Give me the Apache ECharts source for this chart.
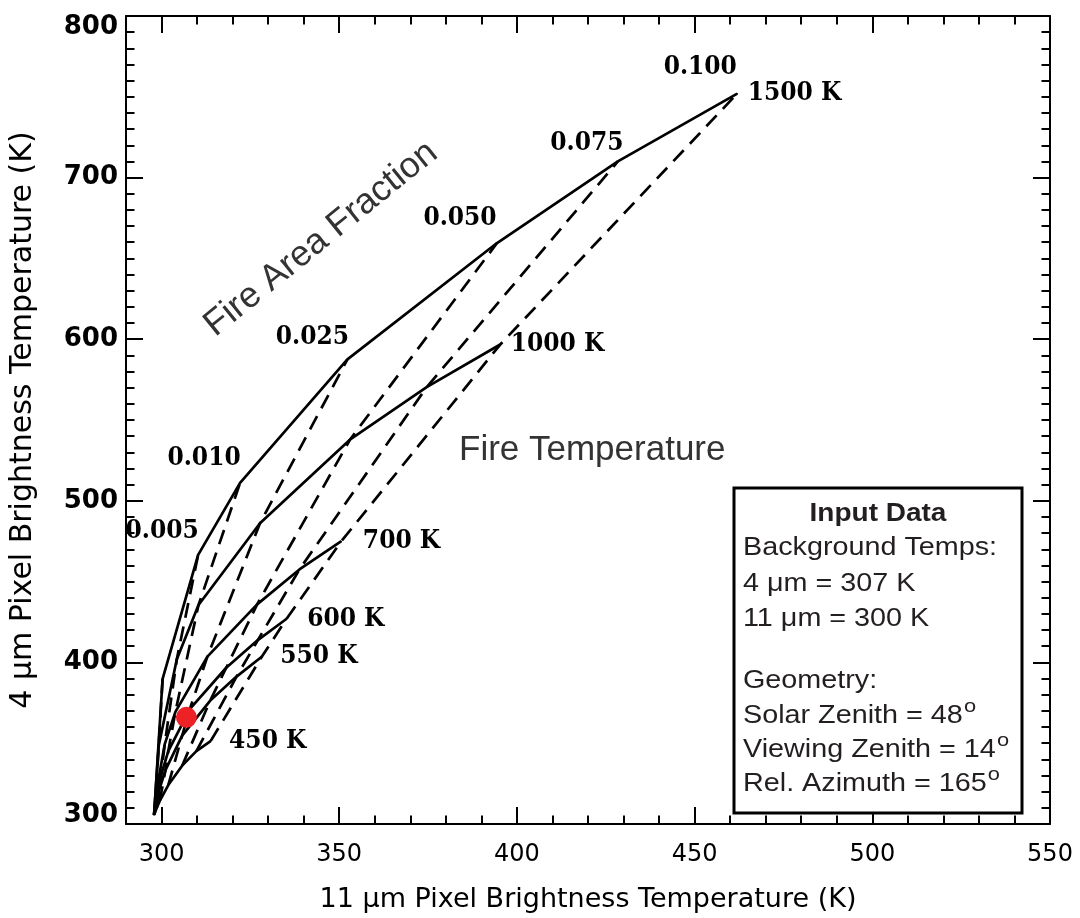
<!DOCTYPE html>
<html><head><meta charset="utf-8">
<script src="https://cdn.jsdelivr.net/npm/echarts@6/dist/echarts.min.js"></script>
<style>html,body{margin:0;padding:0;background:#fff}#c{width:1080px;height:918px}</style>
</head><body><div id="c"></div>
<script>
// ---- data ----
const fireTemps = [450, 550, 600, 700, 1000, 1500];
const tempLabels = ['450 K', '550 K', '600 K', '700 K', '1000 K', '1500 K'];
const fireFractions = [0, 0.001, 0.005, 0.010, 0.025, 0.050, 0.075, 0.100];
const fractionLabels = ['', '', '0.005', '0.010', '0.025', '0.050', '0.075', '0.100'];

// 11 um brightness temperature (x) along each fire-temperature curve, one value per fraction
const t450X  = [297.9, 298.1, 298.7, 299.5, 301.9, 305.8, 309.8, 313.8];
const t550X  = [297.9, 298.2, 299.5, 301.1, 305.8, 313.7, 321.1, 328.2];
const t600X  = [297.9, 298.3, 299.9, 301.9, 308.0, 318.2, 327.1, 335.2];
const t700X  = [297.9, 298.5, 300.9, 303.9, 312.9, 326.9, 338.8, 350.6];
const t1000X = [297.9, 299.2, 304.3, 310.4, 327.7, 353.0, 374.6, 395.3];
const t1500X = [297.9, 300.3, 310.3, 322.1, 352.3, 394.4, 428.4, 462.0];
// 4 um brightness temperature (y)
const t450Y  = [305.7, 306.7, 310.2, 314.3, 324.1, 336.1, 345.1, 351.3];
const t550Y  = [305.7, 309.5, 322.2, 333.3, 354.7, 376.4, 391.2, 403.5];
const t600Y  = [305.7, 312.4, 330.4, 345.1, 371.3, 396.7, 413.8, 427.0];
const t700Y  = [305.7, 319.7, 349.4, 369.4, 403.6, 435.9, 457.5, 475.0];
const t1000Y = [305.7, 348.4, 402.0, 435.5, 486.1, 537.8, 570.3, 596.7];
const t1500Y = [305.7, 389.8, 466.5, 511.1, 587.5, 659.5, 710.0, 752.0];

const redPoint = [307, 366];
const xTicks = [300, 350, 400, 450, 500, 550];
const yTicks = [300, 400, 500, 600, 700, 800];

// ---- styling ----
const xs = [t450X, t550X, t600X, t700X, t1000X, t1500X];
const ys = [t450Y, t550Y, t600Y, t700Y, t1000Y, t1500Y];
const tempLabelDist = [18, 18, 20, 21, 10, 10];
const fracLabelOffset = [null, null, [-36,-24], [-36,-25], [-35,-22], [-37,-25], [-31,-18], [-37,-26]];
const annoFont = "'DejaVu Serif Condensed', 'DejaVu Serif', serif";
const LW = 2.7;

const series = [];
fireTemps.forEach((T, ti) => {
  const data = xs[ti].map((v, i) => {
    const item = { value: [v, ys[ti][i]] };
    if (i === xs[ti].length - 1) {
      item.label = { show: true, position: 'right', distance: tempLabelDist[ti], formatter: tempLabels[ti],
        fontFamily: annoFont, fontWeight: 'bold', fontSize: 26, color: '#000' };
    }
    return item;
  });
  series.push({ type: 'line', data, symbol: 'circle', symbolSize: 1, showSymbol: true,
    itemStyle: { color: '#000' }, lineStyle: { color: '#000', width: LW }, z: 3, silent: true });
});
for (let k = 1; k < fireFractions.length; k++) {
  const data = fireTemps.map((T, ti) => {
    const item = { value: [xs[ti][k], ys[ti][k]] };
    if (ti === fireTemps.length - 1 && fractionLabels[k]) {
      item.label = { show: true, position: 'inside', offset: fracLabelOffset[k], formatter: fractionLabels[k],
        align: 'center', verticalAlign: 'middle',
        fontFamily: annoFont, fontWeight: 'bold', fontSize: 26, color: '#000' };
    }
    return item;
  });
  series.push({ type: 'line', data, symbol: 'circle', symbolSize: 1, showSymbol: true,
    itemStyle: { color: '#000' }, lineStyle: { color: '#000', width: LW, type: [15, 9] }, z: 2, silent: true });
}
series.push({ type: 'scatter', data: [redPoint], symbolSize: 21,
  itemStyle: { color: '#ec2227', opacity: 1 }, z: 10, silent: true });

const axisLine = { show: true, onZero: false, lineStyle: { color: '#000', width: 2 } };
const xMajor = (pos, showLabel) => ({
  type: 'value', position: pos, min: 290, max: 550, gridIndex: 0,
  axisLine, splitLine: { show: false },
  axisTick: { show: true, inside: true, length: 17, customValues: xTicks, lineStyle: { color: '#000', width: 2 } },
  axisLabel: { show: showLabel, customValues: xTicks, margin: 19, color: '#000', fontFamily: 'DejaVu Sans', fontSize: 24 },
  name: showLabel ? '11 \u03bcm Pixel Brightness Temperature (K)' : '',
  nameLocation: 'middle', nameGap: 62,
  nameTextStyle: { color: '#000', fontFamily: 'DejaVu Sans', fontSize: 27 }
});
const xMinor = (pos) => ({
  type: 'value', position: pos, min: 290, max: 550, interval: 10, gridIndex: 0,
  axisLine: { show: false, onZero: false }, splitLine: { show: false },
  axisTick: { show: true, inside: true, length: 8.5, lineStyle: { color: '#000', width: 2 } },
  axisLabel: { show: false }
});
const yAx = (pos, showLabel) => ({
  type: 'value', position: pos, min: 300, max: 800, interval: 100, gridIndex: 0,
  axisLine, splitLine: { show: false },
  axisTick: { show: true, inside: true, length: 17, lineStyle: { color: '#000', width: 2 } },
  minorTick: { show: true, splitNumber: 10, length: 8.5, lineStyle: { color: '#000', width: 2 } },
  minorSplitLine: { show: false },
  axisLabel: { show: showLabel, margin: 8, color: '#000',
    formatter: v => v === 800 ? '{a|800}' : (v === 300 ? '{b|300}' : '{n|' + v + '}'),
    rich: {
      a: { fontFamily: 'DejaVu Sans', fontWeight: 'bold', fontSize: 26, padding: [22, 0, 0, 0] },
      b: { fontFamily: 'DejaVu Sans', fontWeight: 'bold', fontSize: 26, padding: [0, 0, 18, 0] },
      n: { fontFamily: 'DejaVu Sans', fontWeight: 'bold', fontSize: 26 }
    } },
  name: showLabel ? '4 \u03bcm Pixel Brightness Temperature (K)' : '',
  nameLocation: 'middle', nameGap: 88,
  nameTextStyle: { color: '#000', fontFamily: 'DejaVu Sans', fontSize: 30 }
});

const boxFont = 'Liberation Sans';
const boxLines = [
  ['Background Temps:', 548], ['4 \u03bcm = 307 K', 584], ['11 \u03bcm = 300 K', 619],
  ['Geometry:', 681], ['Solar Zenith = 48{s|o}', 716], ['Viewing Zenith = 14{s|o}', 750],
  ['Rel. Azimuth = 165{s|o}', 784]
];
const graphic = [
  { type: 'text', x: 321, y: 239, rotation: 39 * Math.PI / 180, z: 20,
    style: { text: 'Fire Area Fraction', fontFamily: boxFont, fontSize: 36, fill: '#333', align: 'center', verticalAlign: 'middle' } },
  { type: 'text', x: 459, y: 450, z: 20,
    style: { text: 'Fire Temperature', fontFamily: boxFont, fontSize: 35, fill: '#333', align: 'left', verticalAlign: 'middle' } },
  { type: 'rect', shape: { x: 734, y: 488, width: 288, height: 325 }, z: 20,
    style: { fill: '#fff', stroke: '#000', lineWidth: 3 } },
  { type: 'text', x: 878, y: 514, scaleX: 1.12, z: 21,
    style: { text: 'Input Data', fontFamily: boxFont, fontWeight: 'bold', fontSize: 25, fill: '#231f20', align: 'center', verticalAlign: 'middle' } }
];
boxLines.forEach(([t, y]) => graphic.push({ type: 'text', x: 743, y, scaleX: 1.15, z: 21,
  style: { text: t, fontFamily: boxFont, fontSize: 25, fill: '#231f20', align: 'left', verticalAlign: 'middle',
    rich: { s: { fontFamily: boxFont, fontSize: 19, fill: '#231f20', verticalAlign: 'top', padding: [0, 0, 18, 1] } } } }));

const chart = echarts.init(document.getElementById('c'), null, { renderer: 'canvas' });
chart.setOption({
  animation: false,
  backgroundColor: '#fff',
  grid: { left: 120, top: 16, right: 30, bottom: 80, containLabel: false },
  xAxis: [xMajor('bottom', true), xMinor('bottom'), xMajor('top', false), xMinor('top')],
  yAxis: [yAx('left', true), yAx('right', false)],
  series,
  graphic
});
</script></body></html>
